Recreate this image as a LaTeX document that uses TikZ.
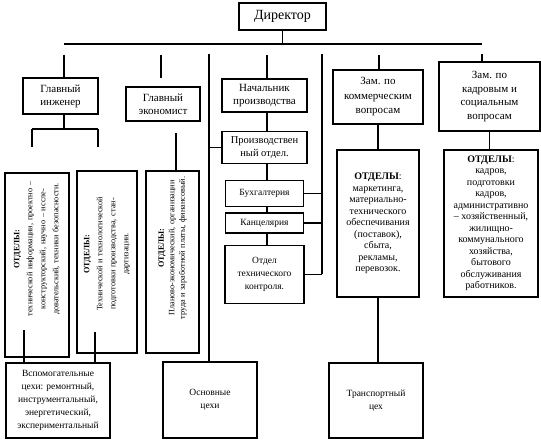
\documentclass[tikz,border=0pt]{standalone}
\usepackage{fontspec}
\setmainfont{Liberation Serif}
\usetikzlibrary{positioning}
\tikzset{
  box/.style={
    draw,
    line width=1.3pt,
    align=center,
    inner sep=1pt,
    font=\fontsize{11}{13}\selectfont
  },
  smallbox/.style={
    box,
    font=\fontsize{9.5}{13}\selectfont
  },
  deptbox/.style={
    box,
    font=\fontsize{10}{11.5}\selectfont
  },
  vbox/.style={draw, line width=1.3pt},
  vtext/.style={rotate=90, align=center, inner sep=0pt, font=\fontsize{8.2}{13}\selectfont},
  line/.style={line width=1.3pt}
}

\begin{document}
\begin{tikzpicture}[x=1pt,y=-1pt]
\useasboundingbox (0,0) rectangle (541,444);

% top level
\node[box, minimum width=87, minimum height=27, font=\fontsize{14}{16}\selectfont] (dir) at (282.5,16.5) {Директор};
\node[box, minimum width=75, minimum height=36] (eng) at (60.5,96) {Главный\\инженер};
\node[box, minimum width=74, minimum height=34] (econ) at (163,104) {Главный\\экономист};
\node[box, minimum width=85, minimum height=33] (chief) at (264.5,95.5) {Начальник\\производства};
\node[box, minimum width=90, minimum height=54, font=\fontsize{11}{14.5}\selectfont] (comm) at (378,97) {Зам. по\\коммерческим\\вопросам};
\node[box, minimum width=101, minimum height=69, font=\fontsize{11}{13.7}\selectfont] (hr) at (489.5,96.5) {Зам. по\\кадровым и\\социальным\\вопросам};

% production chain
\node[box, minimum width=85, minimum height=32, below=18pt of chief, font=\fontsize{10.5}{13}\selectfont] (prod) {Производствен\\ный отдел.};
\node[smallbox, minimum width=78, minimum height=26, below=16pt of prod] (buh) {Бухгалтерия};
\node[smallbox, minimum width=78, minimum height=20, below=5pt of buh] (kanc) {Канцелярия};
\node[smallbox, minimum width=79, minimum height=58, below=11pt of kanc] (otk) {Отдел\\технического\\контроля.};

% rotated departments
\node[vbox, minimum width=64, minimum height=184] (d1) at (37,265) {};
\node[vtext, text width=150] (d1t) at (37,249) {\textbf{ОТДЕЛЫ:}\\технической информации, проектно –\\конструкторский, научно – иссле-\\довательский, техники безопасности.};
\node[vbox, minimum width=60, minimum height=182] (d2) at (107,262) {};
\node[vtext, text width=150] (d2t) at (107,254) {\textbf{ОТДЕЛЫ:}\\Технической и технологической\\подготовки производства, стан-\\дартизации.};
\node[vbox, minimum width=53, minimum height=182] (d3) at (172.5,262) {};
\node[vtext, text width=150, font=\fontsize{8.2}{10.5}\selectfont] (d3t) at (172.5,248) {\textbf{ОТДЕЛЫ:}\\Планово-экономический, организации\\труда и заработной платы, финансовый.};

\node[deptbox, minimum width=82, minimum height=147] (commdept) at (378,223.5) {\textbf{ОТДЕЛЫ}:\\маркетинга,\\материально-\\технического\\обеспечивания\\(поставок),\\сбыта,\\рекламы,\\перевозок.};
\node[deptbox, minimum width=94, minimum height=147] (hrdept) at (491,223.5) {\textbf{ОТДЕЛЫ}:\\кадров,\\подготовки\\кадров,\\административно\\– хозяйственный,\\жилищно-\\коммунального\\хозяйства,\\бытового\\обслуживания\\работников.};

% workshops
\node[smallbox, minimum width=104, minimum height=75] (aux) at (58,400.5) {Вспомогательные\\цехи: ремонтный,\\инструментальный,\\энергетический,\\экспериментальный};
\node[smallbox, minimum width=94, minimum height=76] (main) at (210,400) {Основные\\цехи};
\node[smallbox, minimum width=94, minimum height=75] (trans) at (376,400.5) {Транспортный\\цех};

% bus
\coordinate (busL) at (64,44);
\coordinate (busR) at (482,44);
\draw[line] (dir.south) -- (dir.south |- busL);
\draw[line] (busL) -- (busR);

% stubs under the bus
\coordinate (s1) at (64,55);
\coordinate (s2) at (161,55);
\coordinate (s3) at (209,54);
\coordinate (s4) at (267,55);
\coordinate (s5) at (322,54);
\coordinate (s6) at (379,55);
\coordinate (s7) at (482,54);
\draw[line] (s1) -- (s1 |- eng.north);
\draw[line] (s2) -- ++(0,23);
\draw[line] (s3) -- (s3 |- main.north);
\draw[line] (s4) -- (s4 |- chief.north);
\draw[line] (s5) -- (s5 |- otk.east);
\draw[line] (s6) -- (s6 |- comm.north);
\draw[line] (s7) -- (s7 |- hr.north);

% chief engineer branch
\coordinate (e0) at (64,129);
\coordinate (eL) at (32,129);
\coordinate (eR) at (98,129);
\draw[line] (s1 |- eng.south) -- (e0);
\draw[line] (eL) -- (eR);
\draw[line] (eL) -- ++(0,18);
\draw[line] (eR) -- ++(0,18);
\coordinate (a1) at (24,330);
\coordinate (a2) at (95,332);
\draw[line] (a1) -- (a1 |- aux.north);
\draw[line] (a2) -- (a2 |- aux.north);

% economist branch
\coordinate (c0) at (176,133);
\draw[line] (c0) -- (c0 |- d3.north);

% production chain
\draw[line] (s3 |- prod.west) -- (prod.west);
\draw[line] (s4 |- chief.south) -- (s4 |- prod.north);
\draw[line] (s4 |- prod.south) -- (s4 |- buh.north);
\draw[line] (s4 |- buh.south) -- (s4 |- kanc.north);
\draw[line] (s4 |- kanc.south) -- (s4 |- otk.north);
\draw[line] (buh.east) -- (buh.east -| s5);
\draw[line] (kanc.east) -- (kanc.east -| s5);
\draw[line] (otk.east) -- (otk.east -| s5);

% deputies
\draw[line] (comm.south) -- (comm.south |- commdept.north);
\draw[line] (commdept.south) -- (commdept.south |- trans.north);
\draw[line] (hr.south) -- (hr.south |- hrdept.north);
\end{tikzpicture}
\end{document}
